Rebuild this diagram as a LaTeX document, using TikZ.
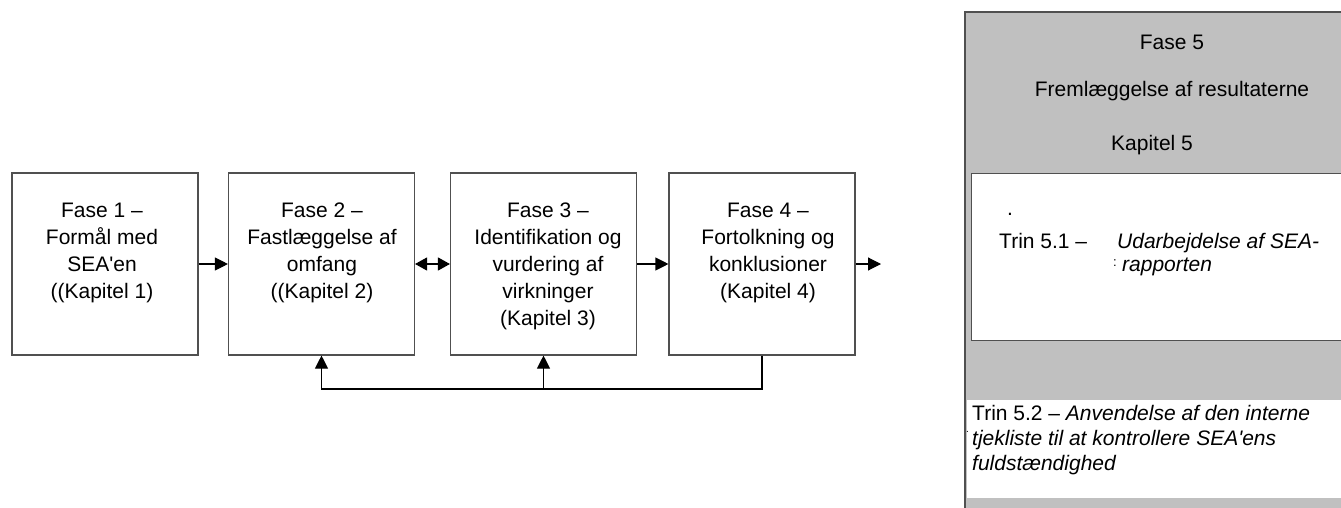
\documentclass[tikz,border=0pt]{standalone}
\usepackage{fontspec}
\setmainfont{Liberation Sans}[Ligatures=TeXOff]
\usetikzlibrary{arrows.meta,calc}
\definecolor{panelgray}{HTML}{C0C0C0}
\definecolor{edgegray}{HTML}{505050}
\begin{document}
\begin{tikzpicture}[x=1pt,y=-1pt,
  phasebox/.style={draw=edgegray, line width=1.1pt, minimum width=186pt, minimum height=182pt, inner sep=0pt},
  phasetext/.style={anchor=north, align=center, inner sep=0pt, font=\fontsize{21}{27}\selectfont},
  arr/.style={-{Triangle[length=13pt,width=13pt]}, line width=1.1pt, black},
  dbl/.style={{Triangle[length=12pt,width=13pt]}-{Triangle[length=12pt,width=13pt]}, line width=1.1pt, black},
  lbl/.style={anchor=base west, inner sep=0pt, font=\fontsize{21}{25}\selectfont},
  mid/.style={anchor=base, inner sep=0pt, font=\fontsize{21}{25}\selectfont}
]
\useasboundingbox (0,0) rectangle (1341,508);
\begin{scope}
\clip (0,0) rectangle (1341,508);
% phase boxes
\node[phasebox] (b1) at (105,264) {};
\node[phasebox] (b2) at (321.5,264) {};
\node[phasebox] (b3) at (543.5,264) {};
\node[phasebox] (b4) at (762,264) {};
\node[phasetext] (t1) at (102,203) {Fase 1 –\\Formål med\\SEA'en\\((Kapitel 1)};
\node[phasetext] (t2) at (322,203) {Fase 2 –\\Fastlæggelse af\\omfang\\((Kapitel 2)};
\node[phasetext] (t3) at (548,203) {Fase 3 –\\Identifikation og\\vurdering af\\virkninger\\(Kapitel 3)};
\node[phasetext] (t4) at (768,203) {Fase 4 –\\Fortolkning og\\konklusioner\\(Kapitel 4)};
% connectors
\draw[arr] (b1.east) -- (b2.west);
\draw[dbl] (b2.east) -- (b3.west);
\draw[arr] (b3.east) -- (b4.west);
\coordinate (out) at (881,264);
\draw[arr] (b4.east) -- (out);
\coordinate (fb) at (321.5,389);
\draw[arr] (b4.south) |- (fb) -- (b2.south);
\draw[arr] (b3.south |- fb) -- (b3.south);
% phase 5 panel
\fill[panelgray] (965,11) rectangle (1345,512);
\draw[edgegray, line width=2pt] (965,512) -- (965,12) -- (1345,12);
\node[draw=edgegray, fill=white, line width=1.1pt, anchor=north west, minimum width=380pt, minimum height=167pt, inner sep=0pt] (p51) at (971,173) {};
\node[fill=white, anchor=north west, minimum width=380pt, minimum height=98pt, inner sep=0pt] (p52) at (967,400) {};
\node[mid] (f5) at (1172,50) {Fase 5};
\node[mid] (f5b) at (1172,97) {Fremlæggelse af resultaterne};
\node[mid] (k5) at (1152,150) {Kapitel 5};
\node[lbl] (dot1) at (1007,215) {.};
\node[lbl] (t51) at (999,248) {Trin 5.1 –};
\node[lbl] (t51a) at (1117,248) {\itshape Udarbejdelse af SEA-};
\node[lbl] (t51b) at (1122,271) {\itshape rapporten};
\node[lbl, font=\fontsize{13}{15}\selectfont] (colon) at (1113,266) {:};
\node[anchor=north west, align=left, inner sep=0pt, font=\fontsize{21}{25}\selectfont] (t52) at (972,405) {Trin 5.2 – \textit{Anvendelse af den interne}\\\textit{tjekliste til at kontrollere SEA'ens}\\\textit{fuldstændighed}};
\node[lbl, font=\fontsize{10}{12}\selectfont] (tick) at (966,432) {.};
\end{scope}
\end{tikzpicture}
\end{document}
